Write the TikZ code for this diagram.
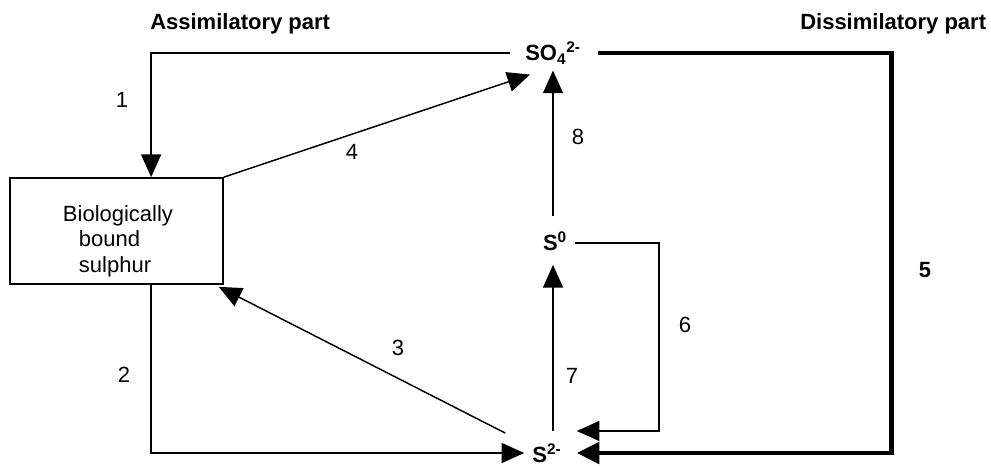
\documentclass[tikz,border=0pt]{standalone}
\usepackage{fontspec}
\setmainfont{Liberation Sans}
\usetikzlibrary{arrows.meta,calc}
\begin{document}
\begin{tikzpicture}[x=0.75pt,y=-0.75pt,
  txt/.style={inner sep=0pt,font=\fontsize{16.5}{19}\selectfont},
  btxt/.style={inner sep=0pt,font=\fontsize{16.5}{19}\selectfont\bfseries},
  conn/.style={line width=1.1pt,-{Triangle[length=17pt,width=15pt]}},
  thick5/.style={line width=3.5pt,-{Triangle[length=17pt,width=16pt]}}]
\useasboundingbox (0,0) rectangle (991,466);
% titles
\node[btxt,anchor=base west] (asm) at (150,30) {Assimilatory part};
\node[btxt,anchor=base west] (dis) at (800,30) {Dissimilatory part};
% species
\node[btxt] (so4) at (553,53) {SO\textsubscript{4}\textsuperscript{2-}};
\node[btxt] (s0) at (555,241) {S\textsuperscript{0}};
\node[btxt] (s2) at (547,453) {S\textsuperscript{2-}};
% box
\node[draw,line width=1.3pt,minimum width=159.75pt,minimum height=79.5pt,inner sep=0pt] (box) at (116.5,231) {};
\node[txt,align=left] (boxt) at (118,241) {Biologically\\\hspace*{12pt}bound\\\hspace*{12pt}sulphur};
% connectors
\coordinate (p1) at ($(box.north west)+(142,0)$);
\coordinate (p2) at ($(box.south west)+(142,0)$);
\draw[conn] ($(so4.west)+(-15,0)$) -| (p1);
\draw[conn] (p2) |- ($(s2.west)+(-8,0)$);
\draw[conn] ($(s2.north west)+(-27,-10)$) -- ($(box.south east)+(-5,2)$);
\draw[conn] (box.north east) -- ($(so4.south west)+(5,10)$);
\draw[thick5] ($(so4.east)+(17,0)$) -| ($(s2.east)+(330,0)$) -- ($(s2.east)+(15,0)$);
\draw[conn] ($(s0.east)+(8,2)$) -| ($(s2.east)+(97,-22)$) -- ($(s2.east)+(15,-22)$);
\draw[conn] ($(s2.north)+(6,-12)$) -- ($(s0.south)+(-2,14)$);
\draw[conn] ($(s0.north)+(-2,-15)$) -- ($(so4.south)+(0,6)$);
% labels
\node[txt] (l1) at (122,100) {1};
\node[txt] (l2) at (124,375) {2};
\node[txt] (l3) at (398,348) {3};
\node[txt] (l4) at (352,152) {4};
\node[btxt] (l5) at (925,270) {5};
\node[txt] (l6) at (685,325) {6};
\node[txt] (l7) at (572,376) {7};
\node[txt] (l8) at (578,137) {8};
\end{tikzpicture}
\end{document}
